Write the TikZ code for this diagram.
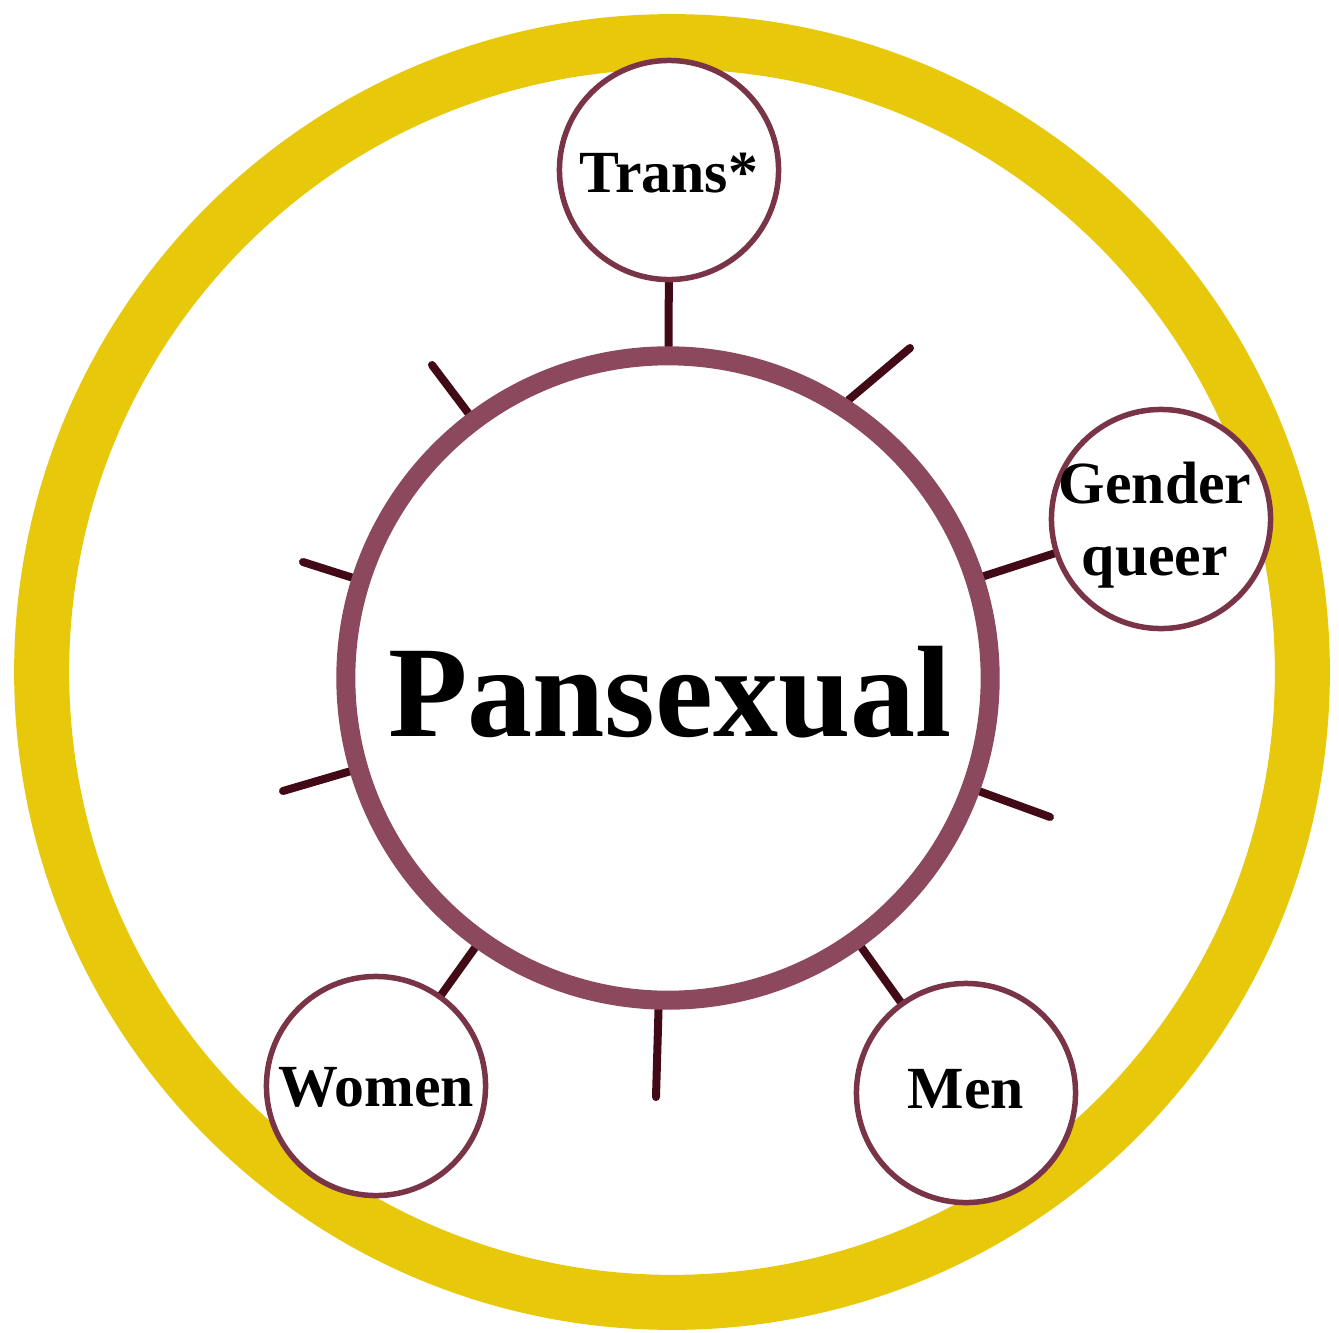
\documentclass[tikz,border=0pt]{standalone}
\usepackage{fontspec}
\setmainfont{Liberation Serif}
\definecolor{ringyellow}{RGB}{232,200,10}
\definecolor{bandmaroon}{RGB}{140,72,92}
\definecolor{satmaroon}{RGB}{122,52,72}
\definecolor{tickdark}{RGB}{66,10,22}
\pgfdeclarelayer{bg}
\pgfsetlayers{bg,main}
\begin{document}
\begin{tikzpicture}[x=0.01cm,y=-0.01cm,
  ring/.style={circle,draw=ringyellow,line width=0.55cm,minimum size=12.6cm,inner sep=0pt},
  hub/.style={circle,draw=bandmaroon,line width=0.19cm,minimum size=6.44cm,inner sep=0pt},
  sat/.style={circle,draw=satmaroon,fill=white,line width=0.055cm,minimum size=2.19cm,inner sep=0pt},
  tick/.style={draw=tickdark,line width=0.08cm,line cap=round},
  satlabel/.style={font=\fontsize{17}{20.5}\selectfont\bfseries,align=center,inner sep=0pt},
  hublabel/.style={font=\fontsize{37}{40}\selectfont\bfseries,inner sep=0pt}]
\begin{pgfonlayer}{bg}
\fill[white] (0,0) rectangle (1339,1333);
\end{pgfonlayer}
\useasboundingbox (0,0) rectangle (1339,1333);
% outer ring
\node[ring] (ring) at (672,672) {};
% hub
\node[hub] (hub) at (668,678) {};
\node[hublabel] (hubtext) at (670,692) {Pansexual};
% satellites
\node[sat] (trans) at (669,170) {};
\node[sat] (gq) at (1161,519) {};
\node[sat] (women) at (376,1086) {};
\node[sat] (men) at (966,1093) {};
\node[satlabel] (transtext) at (669,173) {Trans*};
\node[satlabel] (gqtext) at (1155,525) {Gender\\queer};
\node[satlabel] (womentext) at (376,1087) {Women};
\node[satlabel] (mentext) at (966,1089) {Men};
% free tick ends
\coordinate (f54) at (910,348);
\coordinate (fm18) at (1050,817);
\coordinate (fm90) at (656,1097);
\coordinate (f198) at (283,791);
\coordinate (f162) at (303,562);
\coordinate (f126) at (432,365);
\begin{pgfonlayer}{bg}
\draw[tick] (hub) -- (trans);
\draw[tick] (hub) -- (gq);
\draw[tick] (hub) -- (men);
\draw[tick] (hub) -- (women);
\draw[tick] (hub.57) -- (f54);
\draw[tick] (hub) -- (fm18);
\draw[tick] (hub) -- (fm90);
\draw[tick] (hub) -- (f198);
\draw[tick] (hub) -- (f162);
\draw[tick] (hub) -- (f126);
\end{pgfonlayer}
\end{tikzpicture}
\end{document}
